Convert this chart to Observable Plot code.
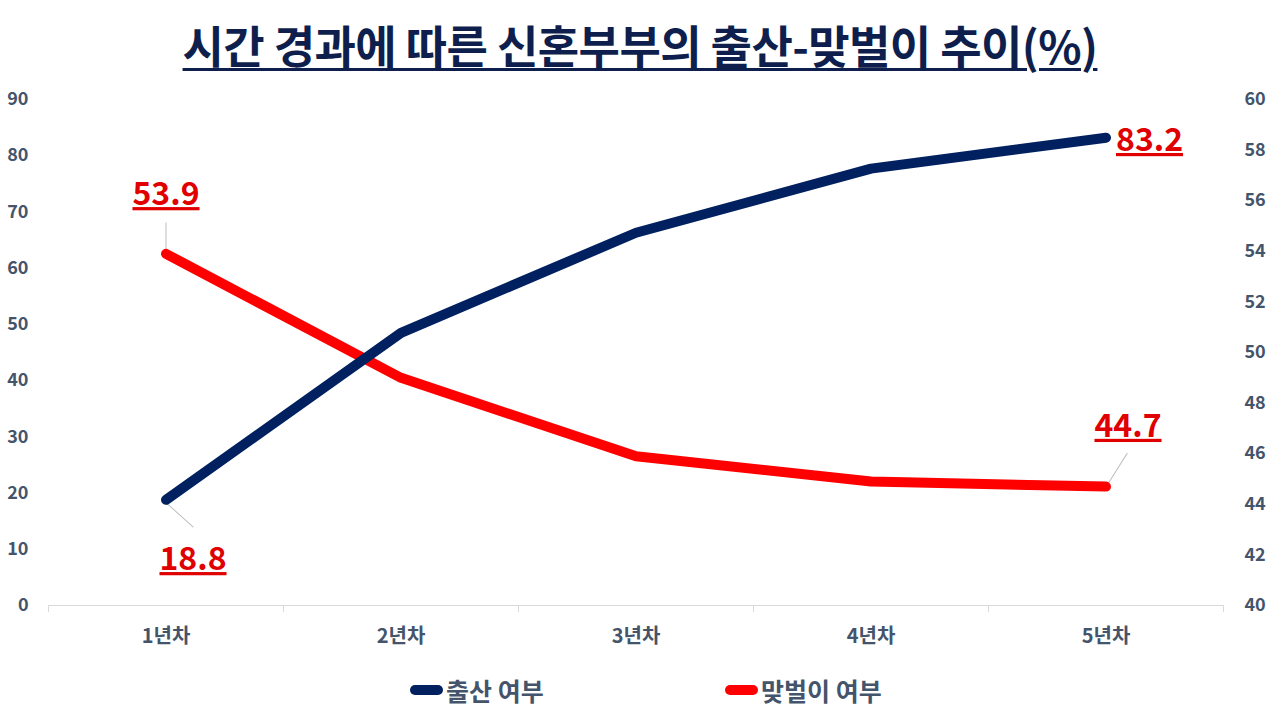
<!DOCTYPE html>
<html>
<head>
<meta charset="utf-8">
<script src="https://cdn.jsdelivr.net/npm/d3@7"></script>
<script src="https://cdn.jsdelivr.net/npm/@observablehq/plot@0.6"></script>
<style>
  body { margin: 0; background: #fff; font-family: "Noto Sans CJK KR", "Noto Sans", sans-serif; }
  #wrap { width: 1280px; height: 720px; position: relative; overflow: hidden; }
  #title { height: 80px; text-align: center; }
  #title span { display: inline-block; margin-top: 21px; font-size: 45px; font-weight: 700; color: #0f1f4d;
    text-decoration: underline; text-decoration-thickness: 3px; text-underline-offset: 4px; line-height: 1.05; letter-spacing: -0.6px; }
  #legend { position: relative; height: 50px; }
  .item { position: absolute; top: 2px; display: flex; align-items: center; font-size: 25px; font-weight: 700; color: #44546a; }
  .sw { display: inline-block; width: 33px; height: 10px; border-radius: 5px; margin-right: 3px; }
  g[fill="#e00000"] text { text-decoration: underline; text-decoration-thickness: 2px; }
</style>
</head>
<body>
<div id="wrap">
  <div id="title"><span>시간 경과에 따른 신혼부부의 출산-맞벌이 추이(%)</span></div>
  <div id="chart"></div>
  <div id="legend"></div>
</div>
<script>
const categories = ["1년차", "2년차", "3년차", "4년차", "5년차"];
const birth = [18.8, 48.5, 66.3, 77.7, 83.2];      // 출산 여부 (left axis)
const dual = [53.9, 49.0, 45.9, 44.9, 44.7];       // 맞벌이 여부 (right axis)
const leftTicks = [0, 10, 20, 30, 40, 50, 60, 70, 80, 90];
const rightTicks = [40, 42, 44, 46, 48, 50, 52, 54, 56, 58, 60];
const seriesNames = ["출산 여부", "맞벌이 여부"];
const seriesColors = ["#002060", "#ff0000"];

// map right-axis values (40–60) onto left scale (0–90)
const toLeft = v => (v - 40) * 4.5;
const fromLeft = v => 40 + v / 4.5;

const birthData = birth.map((v, i) => ({i, v, y: v}));
const dualData = dual.map((v, i) => ({i, v, y: toLeft(v)}));
const boundaries = d3.range(categories.length + 1).map(k => k - 0.5);

const axisColor = "#44546a";
const labelColor = "#e00000";
const leader = {draw(ctx, l) { ctx.moveTo(0, 0); ctx.lineTo(0, -l); }};

const labelStyle = {
  text: d => d.v.toFixed(1), fill: labelColor, fontSize: 32, fontWeight: 700,
  fontFamily: "Noto Sans CJK KR"
};
const axisFont = {fill: axisColor, fontSize: 18, fontWeight: 700, label: null};

const chart = Plot.plot({
  width: 1280,
  height: 590,
  marginTop: 19,
  marginBottom: 65,
  marginLeft: 48,
  marginRight: 57,
  style: {fontFamily: "Noto Sans CJK KR", background: "transparent"},
  x: {domain: [-0.5, categories.length - 0.5], label: null},
  y: {domain: [0, 90], label: null},
  marks: [
    Plot.ruleY([0], {stroke: "#d9d9d9", strokeWidth: 1}),
    Plot.axisX({ticks: boundaries, tickSize: 7, tickFormat: () => "", stroke: "#d9d9d9", label: null}),
    Plot.axisX({ticks: d3.range(categories.length), tickSize: 0, tickPadding: 23,
      tickFormat: i => categories[i], ...axisFont, fontSize: 20}),
    Plot.axisY({anchor: "left", ticks: leftTicks, tickSize: 0, tickPadding: 20, ...axisFont}),
    Plot.axisY({anchor: "right", ticks: rightTicks.map(toLeft), tickSize: 0, tickPadding: 21,
      tickFormat: t => String(Math.round(fromLeft(t))), ...axisFont}),
    // leader lines
    Plot.vector([dualData[0]], {x: "i", y: "y", length: 29, rotate: 0, anchor: "start", dy: -2,
      shape: leader, stroke: "#bfbfbf", strokeWidth: 1}),
    Plot.vector([birthData[0]], {x: "i", y: "y", length: 39, rotate: 132, anchor: "start", dx: -2, dy: 1,
      shape: leader, stroke: "#bfbfbf", strokeWidth: 1}),
    Plot.vector([dualData[4]], {x: "i", y: "y", length: 38, rotate: 32, anchor: "start", dx: 1, dy: -1,
      shape: leader, stroke: "#bfbfbf", strokeWidth: 1}),
    Plot.line(dualData, {x: "i", y: "y", stroke: seriesColors[1], strokeWidth: 10, strokeLinecap: "round", strokeLinejoin: "round"}),
    Plot.line(birthData, {x: "i", y: "y", stroke: seriesColors[0], strokeWidth: 10, strokeLinecap: "round", strokeLinejoin: "round"}),
    // value labels
    Plot.text([dualData[0]], {x: "i", y: "y", ...labelStyle, dx: 0, dy: -59}),
    Plot.text([birthData[0]], {x: "i", y: "y", ...labelStyle, dx: 27, dy: 60}),
    Plot.text([birthData[4]], {x: "i", y: "y", ...labelStyle, textAnchor: "start", dx: 10, dy: 3}),
    Plot.text([dualData[4]], {x: "i", y: "y", ...labelStyle, dx: 22, dy: -60})
  ]
});
document.getElementById("chart").append(chart);

const legend = document.getElementById("legend");
const lefts = [410, 725];
seriesNames.forEach((name, k) => {
  const it = document.createElement("div");
  it.className = "item";
  it.style.left = lefts[k] + "px";
  it.innerHTML = `<span class="sw" style="background:${seriesColors[k]}"></span><span>${name}</span>`;
  legend.append(it);
});
</script>
</body>
</html>
